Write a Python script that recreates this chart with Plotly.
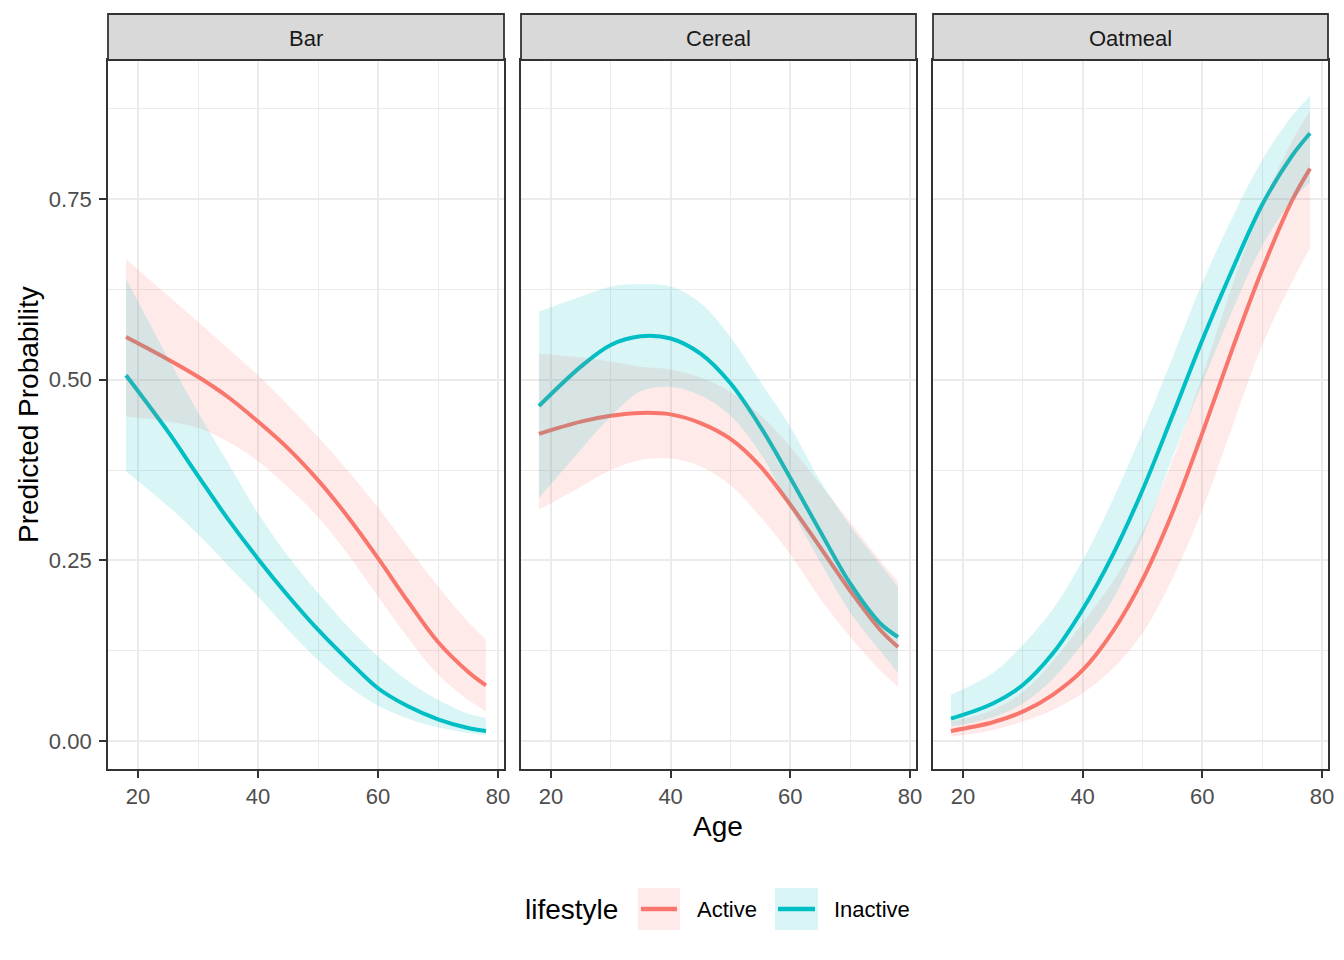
import plotly.graph_objects as go

# ---------------- data ----------------
ages = [18, 25, 30, 35, 40, 45, 50, 55, 60, 65, 70, 75, 78]
panels = ["Bar", "Cereal", "Oatmeal"]
lifestyles = ["Active", "Inactive"]

bar_active_fit = [0.559, 0.528, 0.504, 0.476, 0.442, 0.405, 0.361, 0.310, 0.253, 0.193, 0.137, 0.096, 0.077]
bar_active_hi = [0.667, 0.616, 0.580, 0.543, 0.506, 0.465, 0.421, 0.374, 0.323, 0.268, 0.214, 0.165, 0.140]
bar_active_lo = [0.449, 0.442, 0.433, 0.414, 0.387, 0.351, 0.310, 0.258, 0.200, 0.143, 0.092, 0.057, 0.041]
bar_inactive_fit = [0.506, 0.428, 0.367, 0.307, 0.252, 0.201, 0.154, 0.112, 0.073, 0.048, 0.030, 0.018, 0.014]
bar_inactive_hi = [0.640, 0.530, 0.455, 0.385, 0.315, 0.256, 0.205, 0.158, 0.117, 0.083, 0.057, 0.038, 0.032]
bar_inactive_lo = [0.373, 0.325, 0.286, 0.243, 0.200, 0.154, 0.112, 0.076, 0.049, 0.031, 0.019, 0.011, 0.008]

cereal_active_fit = [0.425, 0.442, 0.450, 0.454, 0.452, 0.440, 0.418, 0.380, 0.327, 0.268, 0.208, 0.154, 0.130]
cereal_active_hi = [0.536, 0.531, 0.525, 0.518, 0.514, 0.503, 0.483, 0.451, 0.407, 0.355, 0.303, 0.250, 0.221]
cereal_active_lo = [0.320, 0.352, 0.375, 0.389, 0.391, 0.380, 0.354, 0.310, 0.258, 0.197, 0.144, 0.098, 0.075]
cereal_inactive_fit = [0.4635, 0.518, 0.548, 0.560, 0.557, 0.536, 0.495, 0.435, 0.364, 0.290, 0.218, 0.163, 0.144]
cereal_inactive_hi = [0.594, 0.615, 0.629, 0.632, 0.629, 0.606, 0.559, 0.497, 0.435, 0.360, 0.298, 0.245, 0.2135]
cereal_inactive_lo = [0.336, 0.403, 0.449, 0.484, 0.490, 0.478, 0.450, 0.398, 0.322, 0.248, 0.178, 0.125, 0.094]

oatmeal_active_fit = [0.014, 0.026, 0.0406, 0.064, 0.098, 0.151, 0.223, 0.316, 0.426, 0.542, 0.652, 0.748, 0.792]
oatmeal_active_hi = [0.027, 0.043, 0.068, 0.110, 0.163, 0.220, 0.290, 0.388, 0.505, 0.630, 0.742, 0.830, 0.872]
oatmeal_active_lo = [0.006, 0.015, 0.027, 0.043, 0.066, 0.100, 0.149, 0.225, 0.320, 0.435, 0.548, 0.635, 0.683]
oatmeal_inactive_fit = [0.031, 0.052, 0.0775, 0.121, 0.182, 0.257, 0.347, 0.450, 0.555, 0.652, 0.742, 0.810, 0.841]
oatmeal_inactive_hi = [0.064, 0.094, 0.133, 0.182, 0.250, 0.333, 0.428, 0.530, 0.634, 0.724, 0.804, 0.865, 0.893]
oatmeal_inactive_lo = [0.020, 0.033, 0.052, 0.086, 0.135, 0.195, 0.282, 0.392, 0.495, 0.595, 0.685, 0.748, 0.772]

x_ticks = [20, 40, 60, 80]
y_ticks = [0, 0.25, 0.5, 0.75]
y_ticktext = ["0.00", "0.25", "0.50", "0.75"]

series = {
    "Bar": {"Active": (bar_active_fit, bar_active_lo, bar_active_hi),
            "Inactive": (bar_inactive_fit, bar_inactive_lo, bar_inactive_hi)},
    "Cereal": {"Active": (cereal_active_fit, cereal_active_lo, cereal_active_hi),
               "Inactive": (cereal_inactive_fit, cereal_inactive_lo, cereal_inactive_hi)},
    "Oatmeal": {"Active": (oatmeal_active_fit, oatmeal_active_lo, oatmeal_active_hi),
                "Inactive": (oatmeal_inactive_fit, oatmeal_inactive_lo, oatmeal_inactive_hi)},
}

line_col = {"Active": "#F8766D", "Inactive": "#00BFC4"}
fill_col = {"Active": "rgba(248,118,109,0.15)", "Inactive": "rgba(0,191,196,0.15)"}

FONT = "Liberation Sans, Arial, sans-serif"
W, H = 1344, 960
# the page draws the figure 8px in from the top-left corner
ML, MR, MT, MB = 100, 24, 6, 199
PW = W - ML - MR
PH = H - MT - MB

def px_x(p):
    # screenshot pixel -> paper fraction
    return (p - 108) / PW

def px_y(p):
    return (769 - p) / PH

x_domains = [[px_x(108), px_x(504)], [px_x(521), px_x(916)], [px_x(933), px_x(1328)]]
y_top = px_y(60)

fig = go.Figure()

for i, pan in enumerate(panels):
    xa = "x" if i == 0 else f"x{i+1}"
    ya = "y" if i == 0 else f"y{i+1}"
    # lines first (ribbons are drawn over them, as in the reference)
    for ls in lifestyles:
        fit, lo, hi = series[pan][ls]
        fig.add_trace(go.Scatter(x=ages, y=fit, mode="lines", xaxis=xa, yaxis=ya,
                                 line=dict(color=line_col[ls], width=4, shape="spline", smoothing=1.0),
                                 showlegend=False, hoverinfo="skip"))
    for ls in lifestyles:
        fit, lo, hi = series[pan][ls]
        fig.add_trace(go.Scatter(x=ages, y=lo, mode="lines", xaxis=xa, yaxis=ya,
                                 line=dict(width=0, shape="spline", smoothing=1.0),
                                 showlegend=False, hoverinfo="skip"))
        fig.add_trace(go.Scatter(x=ages, y=hi, mode="lines", xaxis=xa, yaxis=ya,
                                 line=dict(width=0, shape="spline", smoothing=1.0), fill="tonexty",
                                 fillcolor=fill_col[ls], showlegend=False, hoverinfo="skip"))

layout = dict(
    width=W, height=H,
    margin=dict(l=ML, r=MR, t=MT, b=MB),
    paper_bgcolor="white", plot_bgcolor="white",
    font=dict(family=FONT, color="#000000"),
    showlegend=False,
)

for i in range(3):
    xk = "xaxis" if i == 0 else f"xaxis{i+1}"
    yk = "yaxis" if i == 0 else f"yaxis{i+1}"
    xa = "x" if i == 0 else f"x{i+1}"
    ya = "y" if i == 0 else f"y{i+1}"
    layout[xk] = dict(
        domain=x_domains[i], range=[15, 81], anchor=ya,
        tickmode="array", tickvals=x_ticks, ticktext=[str(v) for v in x_ticks],
        ticks="outside", ticklen=7, tickwidth=1.8, tickcolor="#333333",
        tickfont=dict(size=22, color="#4D4D4D", family=FONT),
        showgrid=True, gridcolor="#EBEBEB", gridwidth=2,
        minor=dict(tickmode="array", tickvals=[30, 50, 70], showgrid=True,
                   gridcolor="#EBEBEB", gridwidth=1.2, ticks=""),
        showline=True, mirror=True, linecolor="#333333", linewidth=1.8,
        zeroline=False, fixedrange=True,
    )
    layout[yk] = dict(
        domain=[0, y_top], range=[-0.0387, 0.9423], anchor=xa,
        tickmode="array", tickvals=y_ticks, ticktext=y_ticktext,
        ticks="outside" if i == 0 else "", ticklen=7, tickwidth=1.8, tickcolor="#333333",
        showticklabels=(i == 0), ticklabelstandoff=3,
        tickfont=dict(size=22, color="#4D4D4D", family=FONT),
        showgrid=True, gridcolor="#EBEBEB", gridwidth=2,
        minor=dict(tickmode="array", tickvals=[0.125, 0.375, 0.625, 0.875], showgrid=True,
                   gridcolor="#EBEBEB", gridwidth=1.2, ticks=""),
        showline=True, mirror=True, linecolor="#333333", linewidth=1.8,
        zeroline=False, fixedrange=True,
    )

fig.update_layout(**layout)

shapes = []
annotations = []
for i, pan in enumerate(panels):
    d0, d1 = x_domains[i]
    shapes.append(dict(type="rect", xref="paper", yref="paper", x0=d0, x1=d1, y0=y_top, y1=px_y(14),
                       fillcolor="#D9D9D9", line=dict(color="#333333", width=1.8), layer="above"))
    annotations.append(dict(text=pan, xref="paper", yref="paper", x=(d0 + d1) / 2, y=px_y(38),
                            showarrow=False, xanchor="center", yanchor="middle",
                            font=dict(size=22, color="#1A1A1A", family=FONT)))

# axis titles
annotations.append(dict(text="Age", xref="paper", yref="paper", x=px_x(718), y=px_y(826),
                        showarrow=False, xanchor="center", yanchor="middle",
                        font=dict(size=28, color="#000000", family=FONT)))
annotations.append(dict(text="Predicted Probability", xref="paper", yref="paper", x=px_x(28), y=px_y(415),
                        showarrow=False, xanchor="center", yanchor="middle", textangle=-90,
                        font=dict(size=28, color="#000000", family=FONT)))

# legend (drawn manually to match ggplot keys)
ly = 909
annotations.append(dict(text="lifestyle", xref="paper", yref="paper", x=px_x(523), y=px_y(ly),
                        showarrow=False, xanchor="left", yanchor="middle",
                        font=dict(size=28, color="#000000", family=FONT)))
keys = [("Active", 638, 680, 695), ("Inactive", 775, 818, 832)]
for ls, k0, k1, tx in keys:
    shapes.append(dict(type="rect", xref="paper", yref="paper", x0=px_x(k0), x1=px_x(k1),
                       y0=px_y(ly + 21), y1=px_y(ly - 21), fillcolor=fill_col[ls], line=dict(width=0)))
    shapes.append(dict(type="line", xref="paper", yref="paper", x0=px_x(k0 + 3), x1=px_x(k1 - 3),
                       y0=px_y(ly), y1=px_y(ly), line=dict(color=line_col[ls], width=4.5)))
    annotations.append(dict(text=ls, xref="paper", yref="paper", x=px_x(tx), y=px_y(ly),
                            showarrow=False, xanchor="left", yanchor="middle",
                            font=dict(size=22, color="#000000", family=FONT)))

fig.update_layout(shapes=shapes, annotations=annotations)

fig.write_html("out.html")
